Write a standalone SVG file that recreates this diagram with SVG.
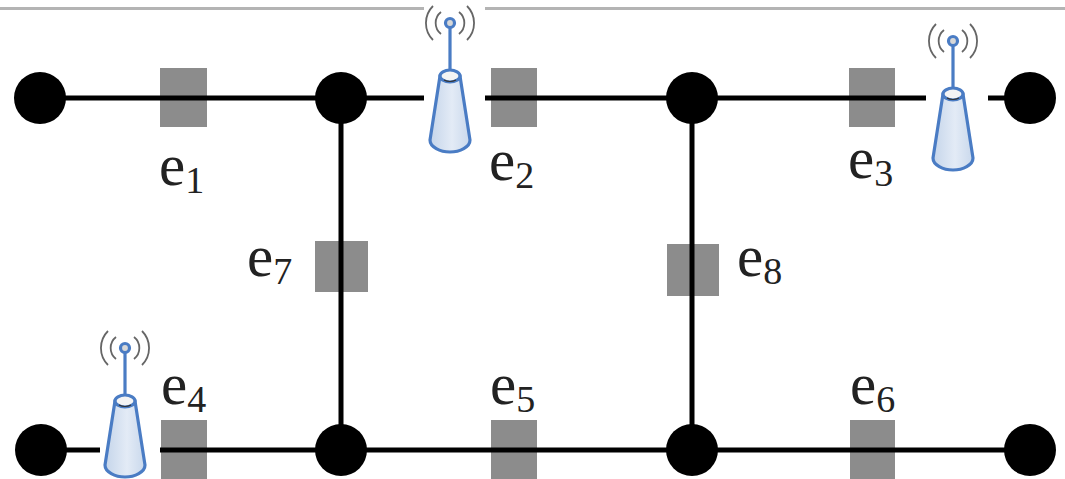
<svg xmlns="http://www.w3.org/2000/svg" width="1065" height="479" viewBox="0 0 1065 479">
<style>
.wire{stroke:#000;stroke-width:5;fill:none}
.edge{fill:#8c8c8c}
.dot{fill:#000}
.lbl{font-family:"Liberation Serif","Times New Roman",serif;font-size:59px;fill:#222}
.sub{font-size:38px}
.wave{fill:none;stroke:#666;stroke-width:1.8}
.ant{stroke:#4a7cc4;stroke-width:3.2}
</style>
<defs>
<linearGradient id="cone" x1="0" x2="1" y1="0" y2="0">
<stop offset="0" stop-color="#c5d5ea"/><stop offset="0.55" stop-color="#e3ebf6"/><stop offset="1" stop-color="#c9d8ec"/>
</linearGradient>
<g id="antenna">
<path class="wave" d="M-17,-17 A24,24 0 0 0 -17,17 M17,-17 A24,24 0 0 1 17,17"/>
<path class="wave" d="M-9,-11 A14,14 0 0 0 -9,11 M9,-11 A14,14 0 0 1 9,11"/>
<line class="ant" x1="0" y1="0" x2="0" y2="50"/>
<circle cx="0" cy="0" r="4.5" fill="#d8d8d8" class="ant"/>
<path class="ant" d="M-10,53 L-20,117 C-20,124 -10,129 0,129 C10,129 20,124 20,117 L10,53 Z" fill="url(#cone)"/>
<ellipse class="ant" cx="0" cy="53" rx="10" ry="6" fill="#f4f4f4"/>
<path d="M-6,57 Q0,60 6,57" stroke="#333" stroke-width="1.2" fill="none"/>
</g>
</defs>
<g id="frame">
<rect x="0" y="7" width="424" height="3" fill="#b4b4b4"/>
<rect x="485" y="7" width="580" height="3" fill="#b4b4b4"/>
</g>
<g id="edge-boxes">
<rect id="box-e1" class="edge" x="160" y="68" width="47" height="59"/>
<rect id="box-e2" class="edge" x="491" y="68" width="46" height="59"/>
<rect id="box-e3" class="edge" x="849" y="68" width="46" height="59"/>
<rect id="box-e4" class="edge" x="161" y="420" width="46" height="59"/>
<rect id="box-e5" class="edge" x="491" y="420" width="46" height="59"/>
<rect id="box-e6" class="edge" x="850" y="420" width="45" height="59"/>
<rect id="box-e7" class="edge" x="315" y="241" width="53" height="51"/>
<rect id="box-e8" class="edge" x="667" y="244" width="52" height="52"/>
</g>
<g id="connectors">
<line class="wire" x1="40" y1="98" x2="341" y2="98"/>
<line class="wire" x1="341" y1="98" x2="424" y2="98"/>
<line class="wire" x1="485" y1="98" x2="926" y2="98"/>
<line class="wire" x1="988" y1="98" x2="1030" y2="98"/>
<line class="wire" x1="41" y1="450" x2="100" y2="450"/>
<line class="wire" x1="160" y1="450" x2="1030" y2="450"/>
<line class="wire" x1="341" y1="98" x2="341" y2="450"/>
<line class="wire" x1="692" y1="98" x2="692" y2="450"/>
</g>
<g id="nodes">
<circle id="n1" class="dot" cx="40" cy="98" r="26"/>
<circle id="n2" class="dot" cx="341" cy="98" r="26"/>
<circle id="n3" class="dot" cx="692" cy="98" r="26"/>
<circle id="n4" class="dot" cx="1030" cy="98" r="26"/>
<circle id="n5" class="dot" cx="41" cy="450" r="26"/>
<circle id="n6" class="dot" cx="341" cy="450" r="26"/>
<circle id="n7" class="dot" cx="692" cy="450" r="26"/>
<circle id="n8" class="dot" cx="1030" cy="450" r="26"/>
</g>
<g id="antenna-1"><use href="#antenna" x="450" y="23"/></g>
<g id="antenna-2"><use href="#antenna" x="953" y="41"/></g>
<g id="antenna-3"><use href="#antenna" x="125" y="348"/></g>
<g id="labels">
<text class="lbl" x="159" y="185">e<tspan class="sub" dy="8">1</tspan></text>
<text class="lbl" x="489" y="180">e<tspan class="sub" dy="8">2</tspan></text>
<text class="lbl" x="848" y="178">e<tspan class="sub" dy="8">3</tspan></text>
<text class="lbl" x="161" y="404">e<tspan class="sub" dy="8">4</tspan></text>
<text class="lbl" x="490" y="404">e<tspan class="sub" dy="8">5</tspan></text>
<text class="lbl" x="850" y="404">e<tspan class="sub" dy="8">6</tspan></text>
<text class="lbl" x="247" y="276">e<tspan class="sub" dy="8">7</tspan></text>
<text class="lbl" x="737" y="276">e<tspan class="sub" dy="8">8</tspan></text>
</g>
</svg>
